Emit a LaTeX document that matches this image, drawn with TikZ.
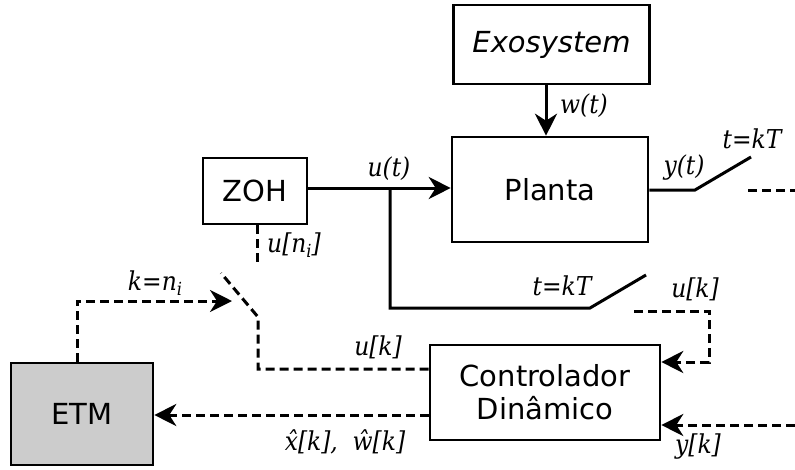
\documentclass[tikz,border=0pt]{standalone}
\usepackage{fontspec}
\setmainfont{DejaVu Sans}
\newfontfamily\lblfont{DejaVu Serif Condensed}
\usetikzlibrary{arrows.meta}
\definecolor{etmgray}{HTML}{CCCCCC}
\begin{document}
\begin{tikzpicture}[x=1pt,y=-1pt,
  conn/.style={line width=3pt},
  box/.style={draw, line width=2.6pt, inner sep=0pt, font=\fontsize{29}{33}\selectfont, align=center},
  lab/.style={font=\lblfont\itshape\fontsize{26}{30}\selectfont, inner sep=0pt},
  dsh/.style={dash pattern=on 9pt off 5pt},
  arr/.style={-{Stealth[length=22pt,width=22pt,inset=7pt]}}]
\useasboundingbox (0,0) rectangle (795,469);
% boxes
\node[box, minimum width=196pt, minimum height=79pt] (exo) at (551.5,44.5) {\itshape Exosystem};
\node[box, minimum width=196pt, minimum height=105pt] (planta) at (550,189.5) {Planta};
\node[box, minimum width=104pt, minimum height=66pt] (zoh) at (255,191) {ZOH};
\node[box, minimum width=230pt, minimum height=95pt] (ctrl) at (545,392.5) {Controlador\\Dinâmico};
\node[box, fill=etmgray, minimum width=142pt, minimum height=102pt] (etm) at (82,414) {ETM};
% coordinates
\coordinate (ut) at (390,188);
\coordinate (sw1a) at (590,308);
\coordinate (sw1b) at (646,275);
\coordinate (sw2a) at (695,190);
\coordinate (sw2b) at (751,157);
\coordinate (yd1) at (748,190);
\coordinate (yd2) at (795,190);
\coordinate (uk1) at (634,311);
\coordinate (uk2) at (709,311);
\coordinate (ctrlin) at (709,362);
\coordinate (yk0) at (795,425);
\coordinate (zohd) at (257,267);
\coordinate (sw3a) at (258,317);
\coordinate (sw3b) at (221,273);
\coordinate (uk3) at (258,369);
\coordinate (etmup) at (77,301);
\coordinate (kn) at (232,301);
\coordinate (xw) at (430,415);
% solid connectors
\draw[conn, arr] (exo.south -| 546,0) -- (planta.north -| 546,0);
\draw[conn, arr] (zoh.east |- ut) -- (planta.west |- ut);
\draw[conn] (ut) |- (sw1a) -- (sw1b);
\draw[conn] (planta.east |- sw2a) -- (sw2a) -- (sw2b);
% dashed connectors
\draw[conn, dsh] (yd1) -- (yd2);
\draw[conn, dsh, arr] (uk1) -- (uk2) -- (ctrlin) -- (ctrl.east |- ctrlin);
\draw[conn, dsh, arr] (yk0) -- (ctrl.east |- yk0);
\draw[conn, dsh] (zoh.south -| zohd) -- (zohd);
\draw[conn, dsh] (ctrl.west |- uk3) -- (uk3) -- (sw3a) -- (sw3b);
\draw[conn, dsh, arr] (etm.north -| etmup) -- (etmup) -- (kn);
\draw[conn, dsh, arr] (ctrl.west |- xw) -- (etm.east |- xw);
% labels
\node[lab] (lw) at (584,106) {w(t)};
\node[lab] (lut) at (389,169) {u(t)};
\node[lab] (lyt) at (684,168) {y(t)};
\node[lab] (ltk1) at (752,139) {t=kT};
\node[lab] (ltk2) at (562,286) {t=kT};
\node[lab] (lun) at (294,245) {u[n\raisebox{-5pt}{\fontsize{18}{20}\selectfont i}]};
\node[lab] (lukr) at (695,289) {u[k]};
\node[lab] (lkn) at (155,283) {k=n\raisebox{-5pt}{\fontsize{18}{20}\selectfont i}};
\node[lab] (lukl) at (378,347) {u[k]};
\node[lab] (lxw) at (345,442) {\^x[k],\ \ \^w[k]};
\node[lab] (lyk) at (698,447) {y[k]};
\end{tikzpicture}
\end{document}
